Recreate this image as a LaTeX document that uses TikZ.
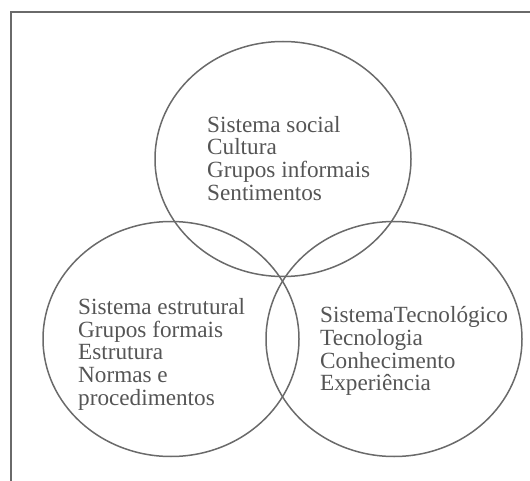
\documentclass[tikz,border=0pt]{standalone}
\usepackage{fontspec}
\setmainfont{Liberation Serif}
\usetikzlibrary{shapes.geometric}
\definecolor{linegray}{HTML}{6A6A6A}
\definecolor{textgray}{HTML}{555555}
\begin{document}
\begin{tikzpicture}[x=1pt,y=-1pt,
  venn/.style={ellipse, draw=linegray, line width=1.5pt, inner sep=0pt,
    minimum width=256pt, minimum height=235pt},
  label/.style={anchor=north west, inner sep=0pt, align=left, text=textgray,
    font=\fontsize{23.2}{22.6}\selectfont}]
\useasboundingbox (0,0) rectangle (530,481);
\coordinate (bl) at (11,482);
\coordinate (tl) at (11,12);
\coordinate (tr) at (531,12);
\draw[linegray, line width=1.5pt] (bl) -- (tl) -- (tr);
\node[venn] (social) at (283,159) {};
\node[venn] (estrutural) at (171,339) {};
\node[venn] (tecno) at (394,339) {};
\node[label] (tsocial) at (207,116) {Sistema social\\Cultura\\Grupos informais\\Sentimentos};
\node[label] (testr) at (78,298.5) {Sistema estrutural\\Grupos formais\\Estrutura\\Normas e\\procedimentos};
\node[label] (ttec) at (320,306.5) {SistemaTecnológico\\Tecnologia\\Conhecimento\\Experiência};
\end{tikzpicture}
\end{document}
